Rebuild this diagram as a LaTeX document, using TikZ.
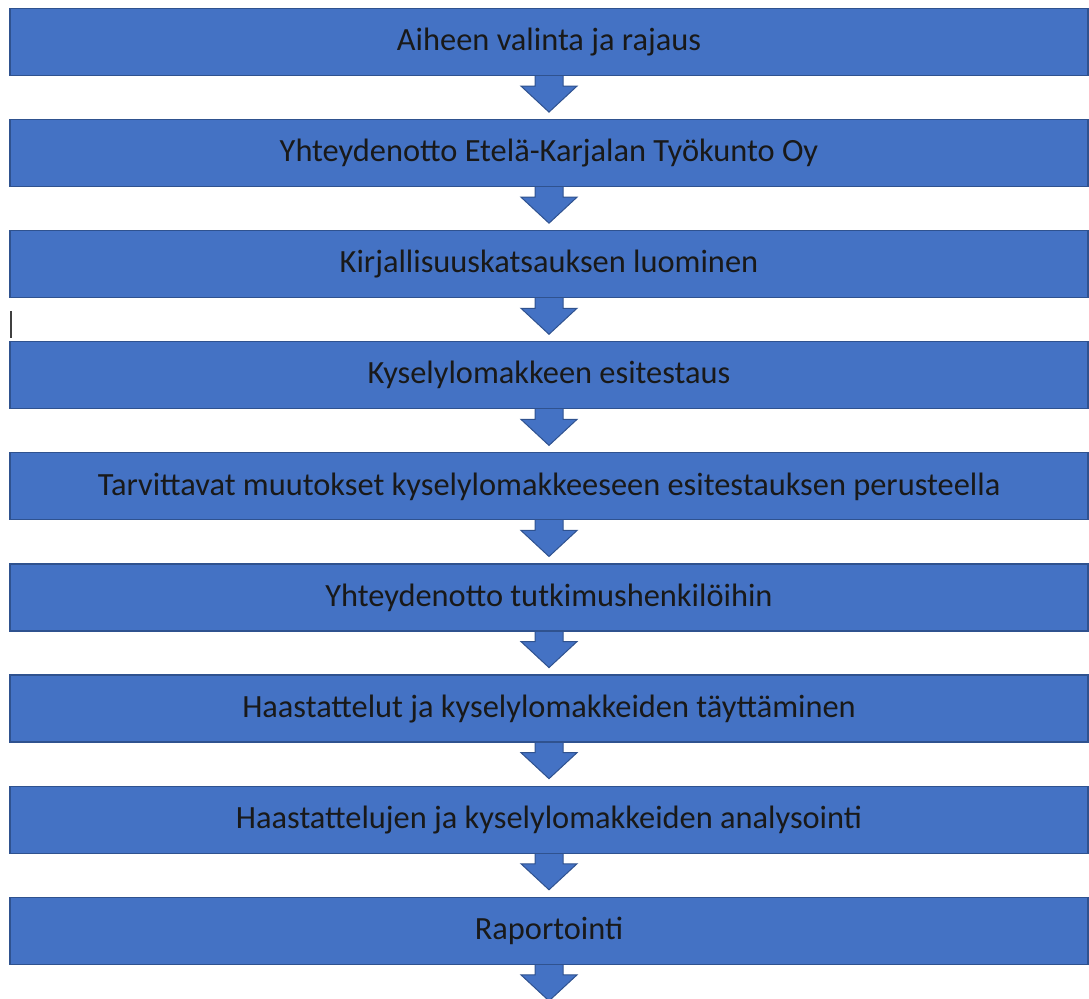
\documentclass[tikz,border=0pt]{standalone}
\usepackage{fontspec}
\setmainfont{Carlito}
\usetikzlibrary{calc,backgrounds}

\definecolor{boxblue}{HTML}{4472C4}
\definecolor{boxline}{HTML}{2F528F}

\tikzset{
    stepbox/.style={draw=boxline, line width=0.6pt, fill=boxblue,
        minimum width=539pt, minimum height=33.5pt, inner sep=0pt,
        font=\fontsize{16.2}{18}\selectfont, text=black!90},
    steparrow/.style={draw=boxline, line width=0.5pt, fill=boxblue, line join=miter}
}

\begin{document}
\begin{tikzpicture}[x=0.5pt, y=-0.5pt]
\useasboundingbox (0,0) rectangle (1089,999);

% Steps
\foreach \txt [count=\i] in {
    Aiheen valinta ja rajaus,
    Yhteydenotto Etelä-Karjalan Työkunto Oy,
    Kirjallisuuskatsauksen luominen,
    Kyselylomakkeen esitestaus,
    Tarvittavat muutokset kyselylomakkeeseen esitestauksen perusteella,
    Yhteydenotto tutkimushenkilöihin,
    Haastattelut ja kyselylomakkeiden täyttäminen,
    Haastattelujen ja kyselylomakkeiden analysointi,
    Raportointi}
    \node[stepbox] (s\i) at (549, 42+111.1*\i-111.1) {\raisebox{-1.6pt}{\txt}};

% Arrows between the steps
\begin{scope}[on background layer]
\foreach \i in {1,...,9}
    \draw[steparrow] ($(s\i.south)+(-14,-4)$)
        -- ++(28,0) -- ++(0,14) -- ++(14,0)
        -- ++(-28,26) -- ++(-28,-26) -- ++(14,0) -- cycle;
\end{scope}

% Text cursor
\draw[line width=1.2pt, black!75] (11,311) -- (11,338);
\end{tikzpicture}
\end{document}
